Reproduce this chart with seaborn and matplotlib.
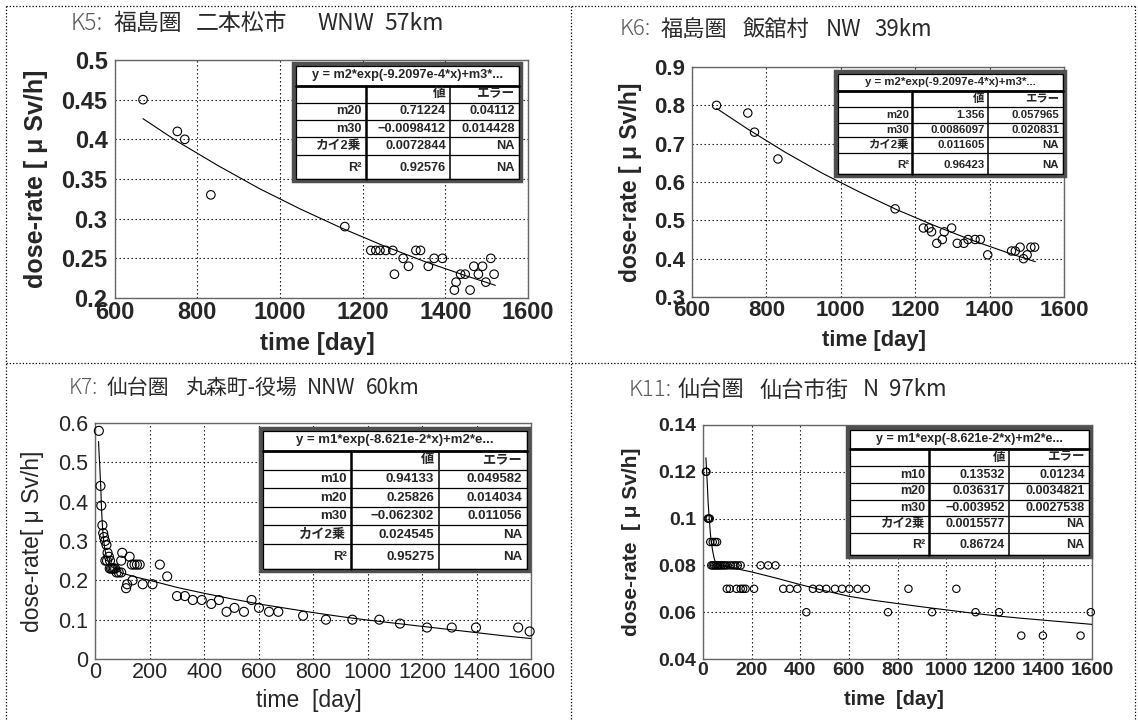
import matplotlib
matplotlib.use("Agg")
import matplotlib.pyplot as plt
import seaborn as sns
from matplotlib.patches import Rectangle
from matplotlib.lines import Line2D

# ---------------- data ----------------
# K5 Fukushima / Nihonmatsu
k5_day = [669, 752, 770, 833, 1157, 1220, 1232, 1242, 1256, 1273, 1277, 1298, 1311, 1329, 1340,
          1359, 1373, 1393, 1422, 1426, 1437, 1448, 1460, 1469, 1480, 1490, 1498, 1510, 1518]
k5_dose = [0.45, 0.41, 0.40, 0.33, 0.29, 0.26, 0.26, 0.26, 0.26, 0.26, 0.23, 0.25, 0.24, 0.26, 0.26,
           0.24, 0.25, 0.25, 0.21, 0.22, 0.23, 0.23, 0.21, 0.24, 0.23, 0.24, 0.22, 0.25, 0.23]
k5_fit_day = [669, 750, 850, 950, 1050, 1150, 1250, 1350, 1450, 1521]
k5_fit_dose = [0.426, 0.398, 0.367, 0.338, 0.312, 0.288, 0.266, 0.246, 0.228, 0.216]

# K6 Fukushima / Iitate
k6_day = [666, 750, 768, 831, 1146, 1222, 1237, 1244, 1258, 1273, 1278, 1298, 1313, 1331, 1342,
          1361, 1375, 1395, 1459, 1469, 1482, 1491, 1501, 1511, 1521]
k6_dose = [0.80, 0.78, 0.73, 0.66, 0.53, 0.48, 0.48, 0.47, 0.44, 0.45, 0.47, 0.48, 0.44, 0.44, 0.45,
           0.45, 0.45, 0.41, 0.42, 0.42, 0.43, 0.40, 0.41, 0.43, 0.43]
k6_fit_day = [666, 750, 850, 950, 1050, 1150, 1250, 1350, 1450, 1523]
k6_fit_dose = [0.792, 0.738, 0.678, 0.623, 0.574, 0.528, 0.487, 0.449, 0.415, 0.392]

# K7 Sendai / Marumori
k7_day = [13, 19, 22, 26, 29, 32, 36, 41, 45, 50, 37, 43, 54, 53, 58, 63, 68, 73, 78, 86, 95, 99,
          95, 113, 117, 126, 137, 134, 144, 153, 163, 174, 210, 237, 264, 300, 329, 358, 391, 426,
          454, 482, 511, 546, 574, 601, 638, 672, 763, 847, 944, 1043, 1119, 1218, 1309, 1398,
          1553, 1595]
k7_dose = [0.58, 0.44, 0.39, 0.34, 0.32, 0.31, 0.30, 0.29, 0.27, 0.26, 0.25, 0.25, 0.25, 0.23, 0.23,
           0.23, 0.23, 0.23, 0.22, 0.22, 0.22, 0.27, 0.25, 0.18, 0.19, 0.26, 0.20, 0.24, 0.24, 0.24,
           0.24, 0.19, 0.19, 0.24, 0.21, 0.16, 0.16, 0.15, 0.15, 0.14, 0.15, 0.12, 0.13, 0.12, 0.15,
           0.13, 0.12, 0.12, 0.11, 0.10, 0.10, 0.10, 0.09, 0.08, 0.08, 0.08, 0.08, 0.07]
k7_fit_day = [12, 14, 16, 18, 20, 23, 26, 30, 35, 40, 50, 60, 80, 100, 150, 200, 300, 400, 500,
              600, 700, 800, 900, 1000, 1100, 1200, 1300, 1400, 1500, 1600]
k7_fit_dose = [0.553, 0.520, 0.497, 0.465, 0.438, 0.380, 0.340, 0.305, 0.280, 0.262, 0.245, 0.235,
               0.225, 0.218, 0.208, 0.200, 0.182, 0.167, 0.153, 0.140, 0.129, 0.118, 0.108, 0.099,
               0.091, 0.083, 0.075, 0.067, 0.059, 0.052]

# K11 Sendai city
k11_day = [12, 14, 20, 24, 28, 30, 40, 50, 58,
           34, 40, 46, 52, 58, 64, 70, 77, 84, 91, 100, 113, 124, 133, 143, 155, 237, 268, 298,
           98, 110, 138, 155, 165, 175, 210, 330, 357, 388, 452, 479, 507, 543, 572, 602, 636, 670,
           845, 1042, 425, 761, 942, 1121, 1218, 1595, 1309, 1398, 1553]
k11_dose = [0.12, 0.12, 0.10, 0.10, 0.10, 0.09, 0.09, 0.09, 0.09,
            0.08, 0.08, 0.08, 0.08, 0.08, 0.08, 0.08, 0.08, 0.08, 0.08, 0.08, 0.08, 0.08, 0.08,
            0.08, 0.08, 0.08, 0.08, 0.08,
            0.07, 0.07, 0.07, 0.07, 0.07, 0.07, 0.07, 0.07, 0.07, 0.07, 0.07, 0.07, 0.07, 0.07,
            0.07, 0.07, 0.07, 0.07, 0.07, 0.07, 0.06, 0.06, 0.06, 0.06, 0.06, 0.06, 0.05, 0.05, 0.05]
k11_fit_day = [12, 15, 18, 21, 25, 30, 34, 40, 46, 52, 65, 80, 150, 200, 300, 400, 500, 600, 700,
               800, 900, 1000, 1100, 1200, 1300, 1400, 1500, 1600]
k11_fit_dose = [0.126, 0.120, 0.114, 0.107, 0.101, 0.094, 0.090, 0.086, 0.083, 0.081, 0.0802,
                0.0798, 0.0783, 0.0772, 0.0746, 0.0718, 0.0692, 0.0668, 0.0651, 0.0637, 0.0623,
                0.0610, 0.0597, 0.0585, 0.0575, 0.0566, 0.0557, 0.0548]

# title parts: station id, region, place, direction, distance
k5_title = ["K5:", "福島圏", "二本松市", "WNW", "57km"]
k6_title = ["K6:", "福島圏", "飯舘村", "NW", "39km"]
k7_title = ["K7:", "仙台圏", "丸森町-役場", "NNW", "60km"]
k11_title = ["K11:", "仙台圏", "仙台市街", "N", "97km"]

# tick labels
fuku_xticks = [600, 800, 1000, 1200, 1400, 1600]
fuku_xlabels = ["600", "800", "1000", "1200", "1400", "1600"]
sendai_xticks = [0, 200, 400, 600, 800, 1000, 1200, 1400, 1600]
sendai_xlabels = ["0", "200", "400", "600", "800", "1000", "1200", "1400", "1600"]
k5_yticks = [0.2, 0.25, 0.3, 0.35, 0.4, 0.45, 0.5]
k5_ylabels = ["0.2", "0.25", "0.3", "0.35", "0.4", "0.45", "0.5"]
k6_yticks = [0.3, 0.4, 0.5, 0.6, 0.7, 0.8, 0.9]
k6_ylabels = ["0.3", "0.4", "0.5", "0.6", "0.7", "0.8", "0.9"]
k7_yticks = [0, 0.1, 0.2, 0.3, 0.4, 0.5, 0.6]
k7_ylabels = ["0", "0.1", "0.2", "0.3", "0.4", "0.5", "0.6"]
k11_yticks = [0.04, 0.06, 0.08, 0.10, 0.12, 0.14]
k11_ylabels = ["0.04", "0.06", "0.08", "0.1", "0.12", "0.14"]

# fit tables
k5_formula = "y = m2*exp(-9.2097e-4*x)+m3*..."
k5_params = ["m20", "m30", "カイ2乗", "R²"]
k5_values = ["0.71224", "−0.0098412", "0.0072844", "0.92576"]
k5_errors = ["0.04112", "0.014428", "NA", "NA"]

k6_formula = "y = m2*exp(-9.2097e-4*x)+m3*..."
k6_params = ["m20", "m30", "カイ2乗", "R²"]
k6_values = ["1.356", "0.0086097", "0.011605", "0.96423"]
k6_errors = ["0.057965", "0.020831", "NA", "NA"]

k7_formula = "y = m1*exp(-8.621e-2*x)+m2*e..."
k7_params = ["m10", "m20", "m30", "カイ2乗", "R²"]
k7_values = ["0.94133", "0.25826", "−0.062302", "0.024545", "0.95275"]
k7_errors = ["0.049582", "0.014034", "0.011056", "NA", "NA"]

k11_formula = "y = m1*exp(-8.621e-2*x)+m2*e..."
k11_params = ["m10", "m20", "m30", "カイ2乗", "R²"]
k11_values = ["0.13532", "0.036317", "−0.003952", "0.0015577", "0.86724"]
k11_errors = ["0.01234", "0.0034821", "0.0027538", "NA", "NA"]

header_value = "値"
header_error = "エラー"

# ---------------- style ----------------
sns.set_style("white")
LAT = ["Liberation Sans", "Noto Sans CJK JP", "DejaVu Sans"]
CJK = ["Noto Sans CJK JP", "DejaVu Sans"]
plt.rcParams["font.family"] = LAT

W, H = 1138, 720
fig = plt.figure(figsize=(W / 100, H / 100), dpi=100)


def px_rect(l, t, r, b):
    return [l / W, 1 - b / H, (r - l) / W, (b - t) / H]


def draw_table(ax, box, formula, params, values, errors, row_fr, col_fr, fs):
    x0, y0, x1, y1 = box  # axes fraction: left, bottom, right, top
    tw, th = x1 - x0, y1 - y0
    tr = ax.transAxes
    z = 6
    ax.add_patch(Rectangle((x0, y0), tw, th, transform=tr, facecolor="white",
                           edgecolor="#505050", lw=3.2, zorder=z, clip_on=False))
    bb = ax.get_window_extent()
    dx = 2.2 / bb.width
    dy = 2.2 / bb.height
    ax.add_patch(Rectangle((x0 + dx, y0 + dy), tw - 2 * dx, th - 2 * dy, transform=tr,
                           facecolor="none", edgecolor="black", lw=0.9, zorder=z + 1,
                           clip_on=False))
    ys = [y1 - f * th for f in row_fr]
    xs = [x0 + f * tw for f in col_fr]
    for i, yy in enumerate(ys[1:-1]):
        ax.add_line(Line2D([x0 + dx, x1 - dx], [yy, yy], transform=tr, color="black",
                           lw=2.0 if i == 0 else 0.9, zorder=z + 1, clip_on=False))
    for j, xx in enumerate(xs[1:-1]):
        ax.add_line(Line2D([xx, xx], [y0 + dy, ys[1]], transform=tr, color="black",
                           lw=1.8 if j == 0 else 1.1, zorder=z + 1, clip_on=False))
    kw = dict(transform=tr, fontsize=fs, fontweight="bold", zorder=z + 2, family=LAT,
              va="center")
    ax.text((x0 + x1) / 2, (ys[0] + ys[1]) / 2, formula, ha="center", **kw)
    pad = 0.010
    ax.text(xs[2] - pad, (ys[1] + ys[2]) / 2, header_value, ha="right", **kw)
    ax.text(xs[3] - pad - dx, (ys[1] + ys[2]) / 2, header_error, ha="right", **kw)
    for i, (p, v, e) in enumerate(zip(params, values, errors)):
        yc = (ys[i + 2] + ys[i + 3]) / 2
        ax.text(xs[1] - pad, yc, p, ha="right", **kw)
        ax.text(xs[2] - pad, yc, v, ha="right", **kw)
        ax.text(xs[3] - pad - dx, yc, e, ha="right", **kw)


def draw_panel(rect, day, dose, fday, fdose, xlim, xticks, xlabels, ylim, yticks, ylabels,
               ylab, xlab, tick_fs, tick_w, ylab_fs, xlab_fs, lab_w, ylab_x, xlab_y, msize):
    ax = fig.add_axes(rect)
    sns.scatterplot(x=day, y=dose, ax=ax, marker="o", s=msize, facecolors="none",
                    edgecolor="black", linewidth=0.8, zorder=3, clip_on=False)
    sns.lineplot(x=fday, y=fdose, ax=ax, color="black", lw=0.8, estimator=None, sort=False,
                 zorder=4)
    ax.set_xlim(*xlim)
    ax.set_ylim(*ylim)
    ax.set_xticks(xticks)
    ax.set_xticklabels(xlabels)
    ax.set_yticks(yticks)
    ax.set_yticklabels(ylabels)
    ax.tick_params(length=0, pad=2)
    ax.tick_params(axis="y", pad=5)
    for lab in ax.get_xticklabels() + ax.get_yticklabels():
        lab.set_fontsize(tick_fs)
        lab.set_fontweight(tick_w)
    ax.grid(True, color="black", linestyle=(0, (1.2, 2.4)), lw=0.8)
    for sp in ax.spines.values():
        sp.set_color("#666666")
        sp.set_linewidth(1.0)
    ax.set_ylabel(ylab, fontsize=ylab_fs, fontweight=lab_w)
    ax.set_xlabel(xlab, fontsize=xlab_fs, fontweight=lab_w)
    ax.yaxis.label.set_va("center")
    ax.xaxis.label.set_va("center")
    ax.yaxis.set_label_coords(ylab_x, 0.5)
    ax.xaxis.set_label_coords(0.49, xlab_y)
    return ax


ax5 = draw_panel(px_rect(114.5, 60, 528, 298), k5_day, k5_dose, k5_fit_day, k5_fit_dose,
                 (600, 1600), fuku_xticks, fuku_xlabels, (0.2, 0.5), k5_yticks, k5_ylabels,
                 "dose-rate [ μ Sv/h]", "time [day]", 17, "bold", 18, 17.5, "bold",
                 -0.19, -0.19, 38)
draw_table(ax5, (0.434, 0.492, 0.983, 0.983), k5_formula, k5_params, k5_values, k5_errors,
           [0, 0.19, 0.33, 0.48, 0.625, 0.775, 1.0], [0, 0.316, 0.687, 1.0], 9.2)

ax6 = draw_panel(px_rect(692, 67, 1064, 297), k6_day, k6_dose, k6_fit_day, k6_fit_dose,
                 (600, 1600), fuku_xticks, fuku_xlabels, (0.3, 0.9), k6_yticks, k6_ylabels,
                 "dose-rate [ μ Sv/h]", "time [day]", 16, "bold", 16.5, 15.8, "bold",
                 -0.165, -0.187, 36)
draw_table(ax6, (0.386, 0.526, 1.003, 0.978), k6_formula, k6_params, k6_values, k6_errors,
           [0, 0.182, 0.335, 0.486, 0.623, 0.783, 1.0], [0, 0.335, 0.665, 1.0], 8.2)

ax7 = draw_panel(px_rect(95.3, 423, 531, 659), k7_day, k7_dose, k7_fit_day, k7_fit_dose,
                 (0, 1600), sendai_xticks, sendai_xlabels, (0, 0.6), k7_yticks, k7_ylabels,
                 "dose-rate[ μ Sv/h]", "time  [day]", 15.5, "normal", 16.5, 16.5, "normal",
                 -0.143, -0.174, 42)
draw_table(ax7, (0.380, 0.373, 0.995, 0.975), k7_formula, k7_params, k7_values, k7_errors,
           [0, 0.154, 0.287, 0.418, 0.549, 0.679, 0.810, 1.0], [0, 0.336, 0.663, 1.0], 9.5)

ax11 = draw_panel(px_rect(703, 425, 1092, 659), k11_day, k11_dose, k11_fit_day, k11_fit_dose,
                  (0, 1600), sendai_xticks, sendai_xlabels, (0.04, 0.14), k11_yticks, k11_ylabels,
                  "dose-rate  [ μ Sv/h]", "time  [day]", 14, "bold", 15, 14.4, "bold",
                  -0.185, -0.175, 28)
draw_table(ax11, (0.373, 0.436, 0.997, 0.987), k11_formula, k11_params, k11_values, k11_errors,
           [0, 0.164, 0.295, 0.426, 0.556, 0.684, 0.812, 1.0], [0, 0.333, 0.662, 1.0], 9.0)

# panel titles, each part placed at its measured left edge (pixels)
title_layout = [
    (k5_title, [71, 114, 196, 317, 384], 23, 16.5),
    (k6_title, [620, 661, 743, 826, 874], 29, 16),
    (k7_title, [69, 107, 185, 307, 366], 388, 15),
    (k11_title, [629, 678, 760, 863, 889], 390, 16),
]
for parts, xs_px, ty, fs in title_layout:
    for k, (txt, tx) in enumerate(zip(parts, xs_px)):
        fig.text(tx / W, 1 - ty / H, txt, fontsize=fs, family=CJK,
                 color="#5a5a5a" if k == 0 else "#2a2a2a",
                 fontweight="light" if k == 0 else "normal", ha="left", va="center")

# dotted panel frame
frame_kw = dict(color="black", lw=0.9, linestyle=(0, (1.0, 1.6)), transform=fig.transFigure)
for (xa, ya, xb, yb) in [(6, 6, 1135, 6), (6, 6, 6, 720), (1135, 6, 1135, 720),
                         (570.7, 6, 570.7, 720), (6, 363, 1135, 363)]:
    fig.add_artist(Line2D([xa / W, xb / W], [1 - ya / H, 1 - yb / H], **frame_kw))

fig.savefig("out.png", dpi=100)
